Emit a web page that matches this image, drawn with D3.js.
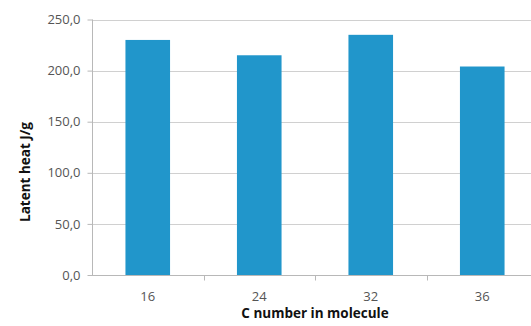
<!DOCTYPE html>
<html>
<head>
<meta charset="utf-8">
<script src="https://cdn.jsdelivr.net/npm/d3@7"></script>
<style>
  html, body { margin: 0; padding: 0; background: #fff; }
  svg { display: block; }
  text { font-family: "Open Sans", "Liberation Sans", sans-serif; }
</style>
</head>
<body>
<svg id="chart" width="531" height="326"></svg>
<script>
// Latent heat of n-alkanes by carbon number
const categories = ["16", "24", "32", "36"];
const latentHeat = [230, 215, 235, 204];
const yTicks = [0, 50, 100, 150, 200, 250];

const width = 531, height = 326;
const margin = { top: 19.5, right: -7, bottom: 51, left: 92 };

const svg = d3.select("#chart");

const x = d3.scaleBand()
  .domain(categories)
  .range([margin.left, width - margin.right])
  .paddingInner(0.6)
  .paddingOuter(0.3);

const y = d3.scaleLinear()
  .domain([0, 250])
  .range([height - margin.bottom, margin.top]);

const fmt = v => d3.format(".1f")(v).replace(".", ",");

// horizontal gridlines
svg.append("g")
  .selectAll("line")
  .data(yTicks.slice(1))
  .join("line")
  .attr("x1", margin.left)
  .attr("x2", width - margin.right)
  .attr("y1", d => Math.round(y(d)) + 0.5)
  .attr("y2", d => Math.round(y(d)) + 0.5)
  .attr("stroke", "#d0d0d0")
  .attr("stroke-width", 1);

// bars
svg.append("g")
  .selectAll("rect")
  .data(categories.map((c, i) => ({ c, v: latentHeat[i] })))
  .join("rect")
  .attr("x", d => x(d.c))
  .attr("width", x.bandwidth())
  .attr("y", d => y(d.v))
  .attr("height", d => y(0) - y(d.v))
  .attr("fill", "#2196cb");

// y axis
const yAxis = svg.append("g")
  .attr("transform", `translate(${margin.left + 0.5},0)`)
  .call(d3.axisLeft(y).tickValues(yTicks).tickFormat(fmt).tickSize(5).tickPadding(7));
yAxis.select(".domain").attr("stroke", "#b8b8b8").attr("d", `M0,${y(250)}V${y(0)}`);
yAxis.selectAll(".tick line").attr("stroke", "#b8b8b8");
yAxis.selectAll(".tick text")
  .attr("fill", "#555")
  .style("font-size", "13px");

// x axis with ticks on category boundaries
const xAxisG = svg.append("g")
  .attr("transform", `translate(0,${Math.round(y(0)) + 0.5})`);
xAxisG.append("line")
  .attr("x1", margin.left)
  .attr("x2", width - margin.right)
  .attr("stroke", "#b8b8b8");
const step = x.step();
const boundaries = d3.range(1, categories.length).map(i => x(categories[i]) - step * x.paddingInner() / 2);
xAxisG.selectAll(".bt")
  .data(boundaries)
  .join("line")
  .attr("class", "bt")
  .attr("x1", d => Math.round(d) + 0.5)
  .attr("x2", d => Math.round(d) + 0.5)
  .attr("y1", 0)
  .attr("y2", 5)
  .attr("stroke", "#b8b8b8");
xAxisG.selectAll(".cl")
  .data(categories)
  .join("text")
  .attr("class", "cl")
  .attr("x", d => x(d) + x.bandwidth() / 2)
  .attr("y", 25)
  .attr("text-anchor", "middle")
  .attr("fill", "#555")
  .style("font-size", "13px")
  .text(d => d);

// axis titles
svg.append("text")
  .attr("x", (margin.left + width - margin.right) / 2)
  .attr("y", 318)
  .attr("text-anchor", "middle")
  .attr("fill", "#111")
  .style("font-size", "13.5px")
  .style("font-weight", "bold")
  .text("C number in molecule");

svg.append("text")
  .attr("transform", "translate(29.5,172) rotate(-90)")
  .attr("text-anchor", "middle")
  .attr("fill", "#111")
  .style("font-size", "13.5px")
  .style("font-weight", "bold")
  .text("Latent heat J/g");
</script>
</body>
</html>
